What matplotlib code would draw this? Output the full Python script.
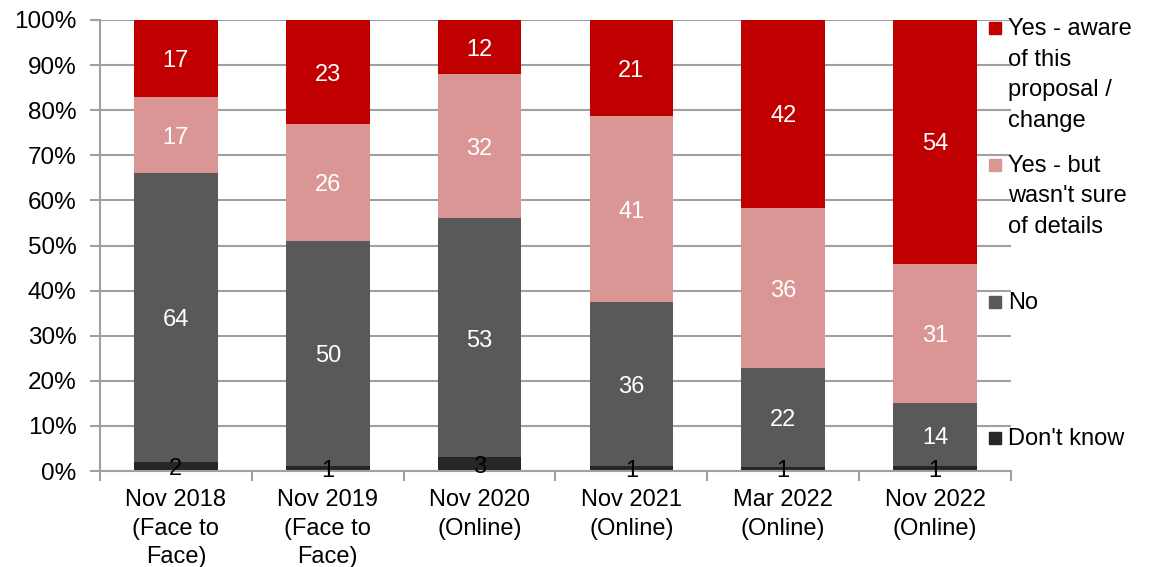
import numpy as np
import matplotlib.pyplot as plt

plt.rcParams['font.family'] = ['Liberation Sans', 'DejaVu Sans']

waves = ['Nov 2018\n(Face to\nFace)', 'Nov 2019\n(Face to\nFace)', 'Nov 2020\n(Online)',
         'Nov 2021\n(Online)', 'Mar 2022\n(Online)', 'Nov 2022\n(Online)']
dont_know = [2, 1, 3, 1, 1, 1]
no = [64, 50, 53, 36, 22, 14]
yes_unsure = [17, 26, 32, 41, 36, 31]
yes_aware = [17, 23, 12, 21, 42, 54]

series = [
    ("Don't know", dont_know, '#262626', 'black'),
    ('No', no, '#595959', 'white'),
    ("Yes - but\nwasn't sure\nof details", yes_unsure, '#DA9694', 'white'),
    ('Yes - aware\nof this\nproposal /\nchange', yes_aware, '#C00000', 'white'),
]

raw = np.array([s[1] for s in series], dtype=float)
share = raw / raw.sum(axis=0) * 100

fig = plt.figure(figsize=(11.58, 5.67), dpi=100)
ax = fig.add_axes([100 / 1158, 1 - 471 / 567, 911 / 1158, 451 / 567])

x = np.arange(len(waves))
bottom = np.zeros(len(waves))
for (name, vals, col, tcol), pct in zip(series, share):
    ax.bar(x, pct, 0.55, bottom=bottom, color=col, zorder=2)
    for xi, b, p, v in zip(x, bottom, pct, vals):
        ax.text(xi, b + p / 2 - 0.6, str(v), ha='center', va='center',
                color=tcol, fontsize=17, zorder=3)
    bottom += pct

ax.set_xlim(-0.5, len(waves) - 0.5)
ax.set_ylim(0, 100)
ax.set_yticks(np.arange(0, 101, 10))
ax.set_yticklabels([f'{v}%' for v in range(0, 101, 10)], fontsize=17.5)
ax.set_xticks(x)
ax.set_xticklabels(waves, fontsize=17, linespacing=1.38)
ax.set_xticks(np.arange(-0.5, len(waves)), minor=True)
ax.tick_params(axis='x', which='major', length=0, pad=13)
ax.tick_params(axis='x', which='minor', length=7, color='#A0A0A0', width=1.5)
ax.tick_params(axis='y', length=7, color='#A0A0A0', width=1.5, pad=10)
ax.grid(axis='y', color='#A0A0A0', linewidth=1.5, zorder=0)
for side in ['top', 'right']:
    ax.spines[side].set_visible(False)
for side in ['left', 'bottom']:
    ax.spines[side].set_color('#A0A0A0')
    ax.spines[side].set_linewidth(1.5)

# legend, laid out like the Excel original
leg_y = [438, 302, 165, 28]
for (name, vals, col, tcol), ly in zip(series, leg_y):
    fig.patches.append(plt.Rectangle((989 / 1158, 1 - (ly + 6) / 567), 12 / 1158, 12 / 567,
                                     transform=fig.transFigure, color=col, figure=fig))
    fig.text(1008 / 1158, 1 - (ly - 10) / 567, name, ha='left', va='top',
             fontsize=17, linespacing=1.5)

fig.savefig('out.png', dpi=100)
